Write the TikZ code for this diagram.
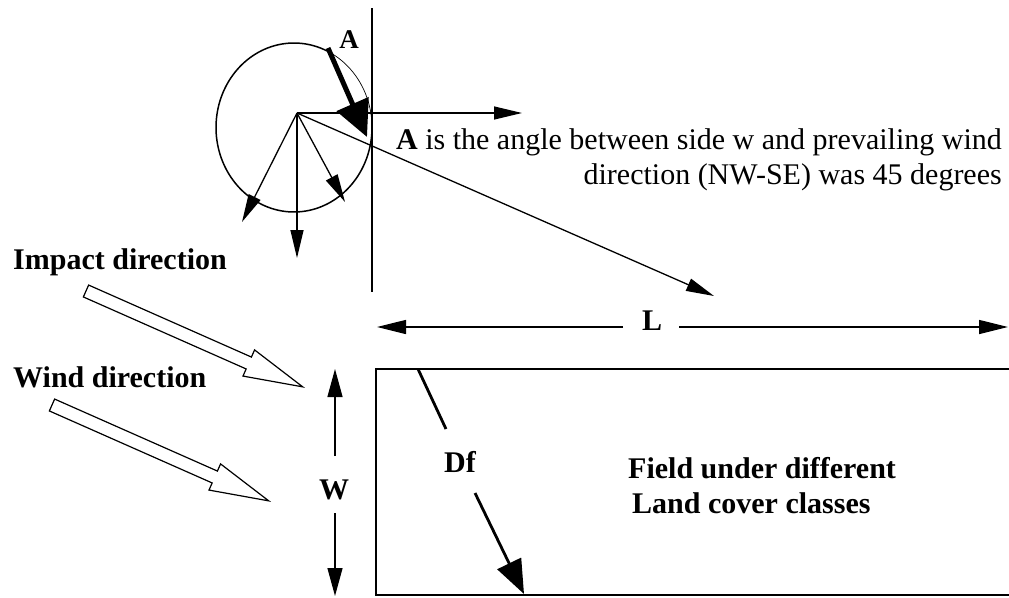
\documentclass[tikz,border=0pt]{standalone}
\usepackage{fontspec}
\setmainfont{Liberation Serif}
\usetikzlibrary{arrows.meta,calc}
\begin{document}
\begin{tikzpicture}[x=1pt,y=-1pt,
  ln/.style={line width=1.3pt},
  arr/.style={ln,-{Triangle[length=28pt,width=13pt]}},
  lbl/.style={font=\fontsize{30}{35}\selectfont\bfseries, inner sep=0pt},
  txt/.style={font=\fontsize{30}{35}\selectfont, inner sep=0pt},
  blockarrow/.style={line width=1.2pt, draw=black, fill=white, line join=miter}
]
\useasboundingbox (0,0) rectangle (1009,597);
\clip (0,0) rectangle (1009,597);

% compass circle
\draw[line width=1.5pt] plot[domain=0:295,samples=120,smooth] ({294+78*cos(\x)},{127.5+84.5*sin(\x)});
\draw[line width=0.7pt] plot[domain=-65:0,samples=40,smooth] ({294+78*cos(\x)},{127.5+84.5*sin(\x)});

\coordinate (O) at (297,113);
\coordinate (E) at (522,113);
\coordinate (SE) at (714,296);
\coordinate (S) at (297,258);
\coordinate (SSE) at (345,202);
\coordinate (SW) at (242,222);
\coordinate (V1) at (372,8);
\coordinate (V2) at (372,292);

\draw[arr] (O) -- (E);
\draw[arr] (O) -- (SE);
\draw[arr] (O) -- (S);
\draw[arr] (O) -- (SSE);
\draw[arr] (O) -- (SW);

% angle A arrow
\coordinate (A1) at (328,48);
\coordinate (A2) at (367,137);
\draw[line width=5pt, -{Triangle[length=36pt,width=34pt]}] (A1) -- (A2);
\draw[ln] (V1) -- (V2);
\node[font=\fontsize{27}{30}\selectfont\bfseries, inner sep=0pt, anchor=base] (lA) at (349,48) {A};

% explanation
\node[txt, anchor=base east] (t1) at (1002,149) {\textbf{A} is the angle between side w and prevailing wind};
\node[txt, anchor=base east] (t2) at (1002,184) {direction (NW-SE) was 45 degrees};

% labels left
\node[lbl, anchor=base west] (imp) at (13,269) {Impact direction};
\node[lbl, anchor=base west] (wnd) at (13,387) {Wind direction};

% block arrows
\begin{scope}[shift={(86,291)}, rotate=-23.86]
\draw[blockarrow] (0,-6.5) -- (178,-6.5) -- (178,-14.3) -- (237,0) -- (178,14.3) -- (178,6.5) -- (0,6.5) -- cycle;
\end{scope}
\begin{scope}[shift={(52,405)}, rotate=-23.86]
\draw[blockarrow] (0,-6.5) -- (178,-6.5) -- (178,-14.3) -- (237,0) -- (178,14.3) -- (178,6.5) -- (0,6.5) -- cycle;
\end{scope}

% L dimension
\coordinate (L1) at (623,327);
\coordinate (L1t) at (377,327);
\coordinate (L2) at (679,327);
\coordinate (L2t) at (1008,327);
\draw[ln,-{Triangle[length=29pt,width=14pt]}] (L1) -- (L1t);
\draw[ln,-{Triangle[length=29pt,width=14pt]}] (L2) -- (L2t);
\node[lbl, anchor=base] (lL) at (652,330) {L};

% W dimension
\coordinate (W1) at (335,456);
\coordinate (W1t) at (335,369);
\coordinate (W2) at (335,513);
\coordinate (W2t) at (335,596);
\draw[ln,-{Triangle[length=28pt,width=15pt]}] (W1) -- (W1t);
\draw[ln,-{Triangle[length=28pt,width=15pt]}] (W2) -- (W2t);
\node[lbl, anchor=base] (lW) at (334,499) {W};

% field
\draw[line width=1.6pt] (376,369) rectangle (1015,595);
\node[lbl, anchor=base west] (f1) at (628,478) {Field under different};
\node[lbl, anchor=base west] (f2) at (632,513) {Land cover classes};

% Df
\coordinate (D1) at (418,369);
\coordinate (D1b) at (446,429);
\coordinate (D2a) at (475,493);
\coordinate (D2) at (524,594);
\draw[line width=2.8pt] (D1) -- (D1b);
\draw[line width=2.8pt, -{Triangle[length=34pt,width=26pt]}] (D2a) -- (D2);
\node[lbl, anchor=base] (lDf) at (460,472) {Df};
\end{tikzpicture}
\end{document}
